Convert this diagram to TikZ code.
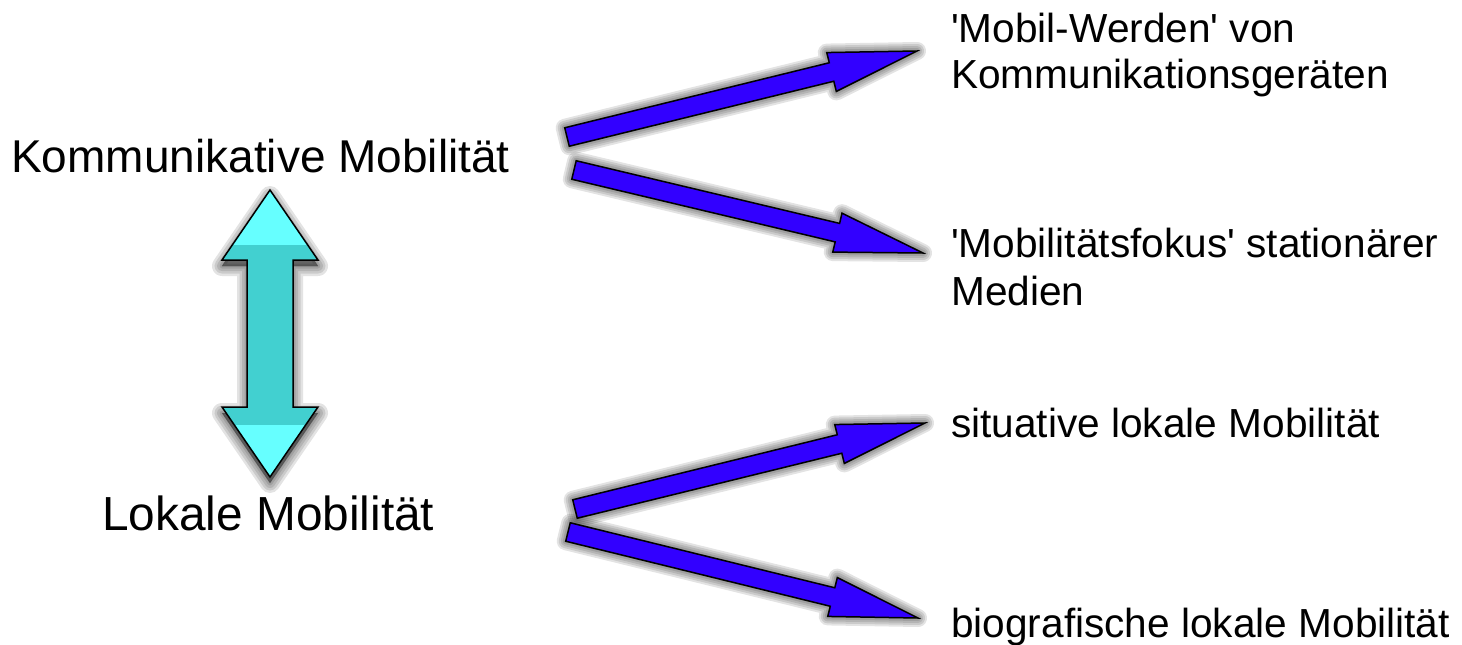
\documentclass[tikz,border=0pt]{standalone}
\usepackage{fontspec}
\setmainfont{Liberation Sans}
\usetikzlibrary{calc}
\definecolor{arrowblue}{RGB}{50,0,255}
\definecolor{cyanlight}{RGB}{102,255,255}
\definecolor{cyandark}{RGB}{66,208,208}
\newcommand\fatpath[2]{($(#1)!9.5pt!90:(#2)$) -- ($(#1c)!9.5pt!90:(#2)$) -- ($(#1c)!20pt!90:(#2)$)
    -- (#2) -- ($(#1c)!20pt!-90:(#2)$) -- ($(#1c)!9.5pt!-90:(#2)$) -- ($(#1)!9.5pt!-90:(#2)$) -- cycle}
\newcommand\fatarr[2]{%
  \coordinate (#1c) at ($(#2)!88pt!(#1)$);
  \foreach \w in {18,14,10,6,2} {\path[shadowlayer, line width=\w pt] \fatpath{#1}{#2};}
  \draw[fatarrow] \fatpath{#1}{#2};}
\begin{document}
\begin{tikzpicture}[x=1pt,y=-1pt,
  big/.style={font=\fontsize{46}{52}\selectfont, anchor=base west, inner sep=0pt},
  small/.style={font=\fontsize{40.6}{46}\selectfont, anchor=base west, inner sep=0pt},
  shadowlayer/.style={shift={(4,10)}, fill=black, draw=black, fill opacity=0.11, draw opacity=0.11, line join=round},
  fatarrow/.style={fill=arrowblue, draw=black, line width=1.5pt, line join=miter}]
\useasboundingbox (0,0) rectangle (1462,645);

% texts
\node[big] (km) at (11,172) {Kommunikative Mobilität};
\node[big, font=\fontsize{47.8}{52}\selectfont] (lm) at (102,530) {Lokale Mobilität};
\node[small] (t1a) at (951,42) {\textquotesingle Mobil-Werden\textquotesingle\ von};
\node[small] (t1b) at (951,88) {Kommunikationsgeräten};
\node[small] (t2a) at (951,257) {\textquotesingle Mobilitätsfokus\textquotesingle\ stationärer};
\node[small] (t2b) at (951,305) {Medien};
\node[small] (t3) at (951,437) {situative lokale Mobilität};
\node[small] (t4) at (951,637) {biografische lokale Mobilität};

% arrow anchors
\coordinate (a1) at (567,137); \coordinate (b1) at (917,51);
\coordinate (a2) at (574,170); \coordinate (b2) at (923,253);
\coordinate (a3) at (575,509); \coordinate (b3) at (925,423);
\coordinate (a4) at (568,532); \coordinate (b4) at (918,618);

\fatarr{a1}{b1}
\fatarr{a2}{b2}
\fatarr{a3}{b3}
\fatarr{a4}{b4}

% double arrow
\def\dbl{(270,190) -- (318,260) -- (293,260) -- (293,407) -- (318,407) -- (270,477) -- (222,407) -- (247,407) -- (247,260) -- (222,260) -- cycle}
\foreach \w in {20,15,10,5,1} {\path[shadowlayer, shift={(-4,-4)}, line width=\w pt] \dbl;}
\begin{scope}
  \clip \dbl;
  \fill[cyanlight] (200,180) rectangle (340,490);
  \fill[cyandark] (200,245) rectangle (340,425);
\end{scope}
\draw[black, line width=1.5pt, line join=miter] \dbl;
\end{tikzpicture}
\end{document}
